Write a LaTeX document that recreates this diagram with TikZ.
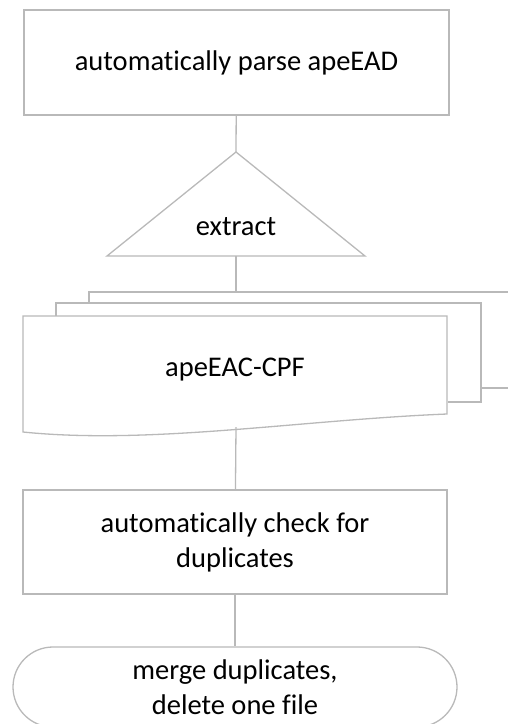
\documentclass[tikz,border=0pt]{standalone}
\usepackage{fontspec}
\setmainfont{Carlito}[Ligatures=NoCommon]
\definecolor{linegray}{RGB}{185,185,185}

\begin{document}
\begin{tikzpicture}
[x=1pt,y=-1pt,every node/.style={font=\fontsize{28.5}{35}\selectfont,align=center,inner sep=0pt},
box/.style={draw=linegray,line width=1.3pt,minimum width=425pt,minimum height=105pt},
term/.style={draw=linegray,line width=1.3pt,minimum width=444pt,minimum height=80pt,rounded corners=40pt},
link/.style={draw=linegray,line width=1.3pt}]
\useasboundingbox (0,0) rectangle (508,724);
\clip (0,0) rectangle (508,724);
\node[box] (parse) at (236.5,62.5) {automatically parse apeEAD};
\node (extract) at (236,227) {extract};
\coordinate (apex) at (236,152);
\coordinate (base) at (236,256);
\draw[link] (apex) -- (365,256) -- (107,256) -- cycle;
% stacked documents
\coordinate (doctop) at (236,292);
\coordinate (docbot) at (236,427);
\draw[link] (89,303) -- (89,292) -- (520,292);
\draw[link] (482,388) -- (520,388);
\draw[link] (56,316) -- (56,303) -- (481,303) -- (481,402) -- (448,402);
\draw[link] (23,316) -- (447,316) -- (447,414) .. controls (300,420) and (150,445) .. (23,432) -- cycle;
\node (cpf) at (235,370) {apeEAC-CPF};
\node[box,minimum width=424pt,minimum height=104pt] (check) at (235,542) {automatically check for\\duplicates};
\node[term] (merge) at (235,687) {merge duplicates,\\delete one file};
\draw[link] (parse) -- (apex);
\draw[link] (base) -- (doctop);
\draw[link] (docbot) -- (check);
\draw[link] (check) -- (merge);
\end{tikzpicture}
\end{document}
